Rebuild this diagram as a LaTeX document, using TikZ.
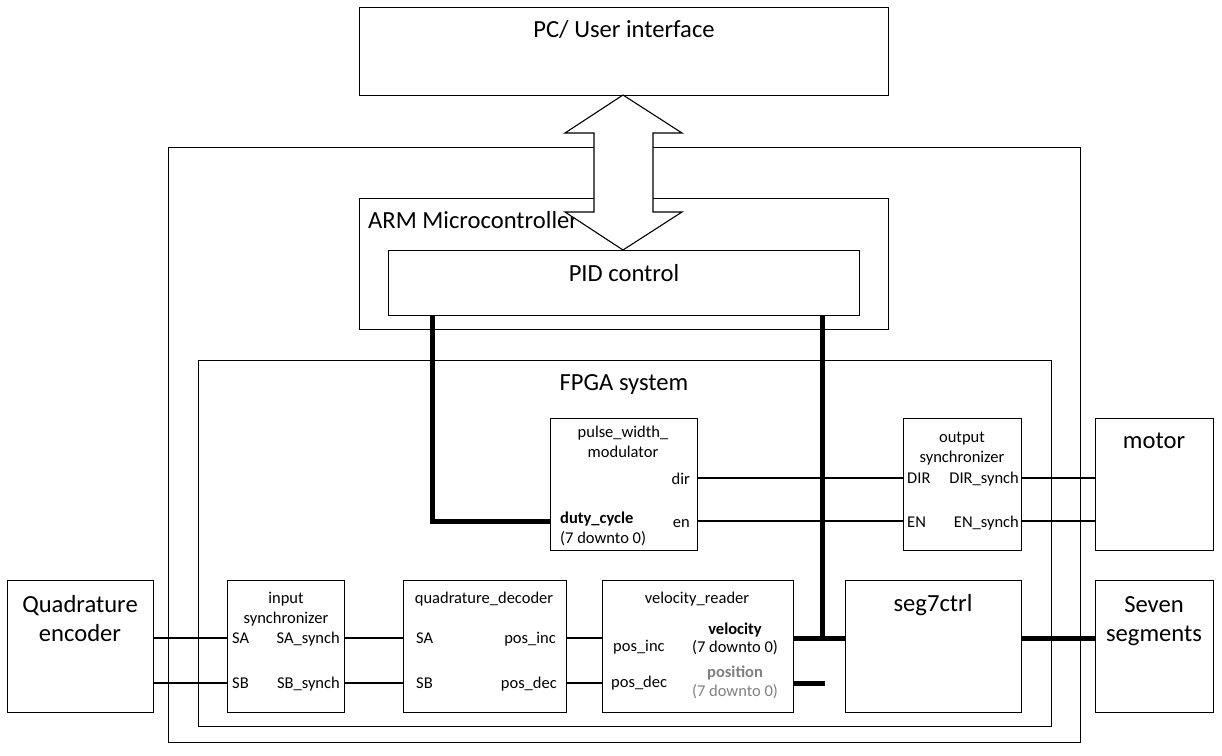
\documentclass[tikz,border=0pt]{standalone}
\usepackage{fontspec}
\setmainfont{Carlito}
\usetikzlibrary{calc}
\begin{document}
\begin{tikzpicture}[x=1pt,y=-1pt,
  box/.style={draw, line width=1.1pt, fill=white, anchor=north west, inner sep=0pt},
  big/.style={font=\fontsize{24.6}{30}\selectfont, inner sep=0pt},
  small/.style={font=\fontsize{16.5}{20}\selectfont, inner sep=0pt},
  smallbf/.style={font=\fontsize{16.5}{20}\selectfont\bfseries, inner sep=0pt},
  wire/.style={line width=1.1pt},
  bus/.style={line width=5pt},
  dim/.style={text=black!50}]
\useasboundingbox (0,0) rectangle (1222,755);
% rows
\coordinate (rowDir) at (0,478);
\coordinate (rowEn) at (0,521);
\coordinate (rowA) at (0,638);
\coordinate (rowB) at (0,683);
% boxes
\node[box, minimum width=529pt, minimum height=88pt] (pc) at (359,7) {};
\node[box, minimum width=912pt, minimum height=595pt] (outer) at (168,147) {};
\node[box, minimum width=529pt, minimum height=131pt] (arm) at (359,198) {};
\node[box, minimum width=853pt, minimum height=366pt] (fpga) at (198,360) {};
\node[box, minimum width=147pt, minimum height=132pt] (pwm) at (550,418) {};
\node[box, minimum width=118pt, minimum height=132pt] (osync) at (903,418) {};
\node[box, minimum width=118pt, minimum height=132pt] (motor) at (1095,418) {};
\node[box, minimum width=146pt, minimum height=132pt] (qe) at (7,580) {};
\node[box, minimum width=117pt, minimum height=132pt] (isync) at (227,580) {};
\node[box, minimum width=163pt, minimum height=132pt] (qd) at (403,580) {};
\node[box, minimum width=191pt, minimum height=132pt] (vr) at (602,580) {};
\node[box, minimum width=176pt, minimum height=132pt] (seg) at (845,580) {};
\node[box, minimum width=118pt, minimum height=132pt] (seven) at (1095,580) {};
% big texts
\node[big, anchor=base] (pctext) at (624,37) {PC/ User interface};
\node[big, anchor=base west] (armtext) at (368,228) {ARM Microcontroller};
\node[big, anchor=base] (fpgatext) at (624,390) {FPGA system};
\node[big, anchor=base] (motortext) at (1154,448) {motor};
\node[big, anchor=base] (qetext1) at (80,612) {Quadrature};
\node[big, anchor=base] (qetext2) at (80,641) {encoder};
\node[big, anchor=base] (seventext1) at (1154,612) {Seven};
\node[big, anchor=base] (seventext2) at (1154,641) {segments};
\node[big, anchor=base] (segtext) at (933,611) {seg7ctrl};
% double arrow
\path[draw, line width=1.1pt, fill=white, line join=miter]
  (623,95) -- (682,133) -- (653,133) -- (653,212) -- (682,212) -- (623,250)
  -- (565,212) -- (594,212) -- (594,133) -- (565,133) -- cycle;
% PID
\node[box, minimum width=471pt, minimum height=65pt] (pid) at (388,250) {};
\node[big, anchor=base] (pidtext) at (624,281) {PID control};
% pwm labels
\node[small, anchor=base] (pwmt1) at (623,437) {pulse\_width\_};
\node[small, anchor=base] (pwmt2) at (623,457) {modulator};
\node[small, anchor=base east] (pdir) at (690,484) {dir};
\node[small, anchor=base east] (pen) at (690,527) {en};
\node[smallbf, anchor=base west] (duty1) at (560,523) {duty\_cycle};
\node[small, anchor=base west] (duty2) at (560,543) {(7 downto 0)};
% output synchronizer labels
\node[small, anchor=base] (ost1) at (962,442) {output};
\node[small, anchor=base] (ost2) at (962,462) {synchronizer};
\node[small, anchor=base west] (odir) at (907,483) {DIR};
\node[small, anchor=base east] (odirs) at (1019,483) {DIR\_synch};
\node[small, anchor=base west] (oen) at (907,527) {EN};
\node[small, anchor=base east] (oens) at (1019,527) {EN\_synch};
% input synchronizer labels
\node[small, anchor=base] (ist1) at (286,603) {input};
\node[small, anchor=base] (ist2) at (286,623) {synchronizer};
\node[small, anchor=base west] (isa) at (232,643) {SA};
\node[small, anchor=base east] (isas) at (340,643) {SA\_synch};
\node[small, anchor=base west] (isb) at (232,688) {SB};
\node[small, anchor=base east] (isbs) at (340,688) {SB\_synch};
% quadrature decoder labels
\node[small, anchor=base] (qdt) at (484,603) {quadrature\_decoder};
\node[small, anchor=base west] (qsa) at (416,643) {SA};
\node[small, anchor=base west] (qsb) at (416,688) {SB};
\node[small, anchor=base east] (qinc) at (556,643) {pos\_inc};
\node[small, anchor=base east] (qdec) at (557,688) {pos\_dec};
% velocity reader labels
\node[small, anchor=base] (vrt) at (697,603) {velocity\_reader};
\node[small, anchor=base west] (vinc) at (613,651) {pos\_inc};
\node[small, anchor=base west] (vdec) at (611,687) {pos\_dec};
\node[smallbf, anchor=base] (vel1) at (735,634) {velocity};
\node[small, anchor=base] (vel2) at (735,652) {(7 downto 0)};
\node[smallbf, anchor=base, dim] (pos1) at (735,677) {position};
\node[small, anchor=base, dim] (pos2) at (735,696) {(7 downto 0)};
% thin wires
\draw[wire] (qe.east |- rowA) -- (isync.west |- rowA);
\draw[wire] (qe.east |- rowB) -- (isync.west |- rowB);
\draw[wire] (isync.east |- rowA) -- (qd.west |- rowA);
\draw[wire] (isync.east |- rowB) -- (qd.west |- rowB);
\draw[wire] (qd.east |- rowA) -- (vr.west |- rowA);
\draw[wire] (qd.east |- rowB) -- (vr.west |- rowB);
\draw[wire] (pwm.east |- rowDir) -- (osync.west |- rowDir);
\draw[wire] (pwm.east |- rowEn) -- (osync.west |- rowEn);
\draw[wire] (osync.east |- rowDir) -- (motor.west |- rowDir);
\draw[wire] (osync.east |- rowEn) -- (motor.west |- rowEn);
% buses
\coordinate (b1top) at ($(pid.south west)+(44,0)$);
\coordinate (b2top) at ($(pid.south west)+(434,0)$);
\draw[bus] (b1top) |- (pwm.west |- rowEn);
\draw[bus] (b2top) -- (b2top |- rowA);
\draw[bus] (vr.east |- rowA) -- (seg.west |- rowA);
\coordinate (stubend) at ($(b2top |- rowB)+(2.5,0)$);
\draw[bus] (vr.east |- rowB) -- (stubend);
\draw[bus] (seg.east |- rowA) -- (seven.west |- rowA);
\end{tikzpicture}
\end{document}
